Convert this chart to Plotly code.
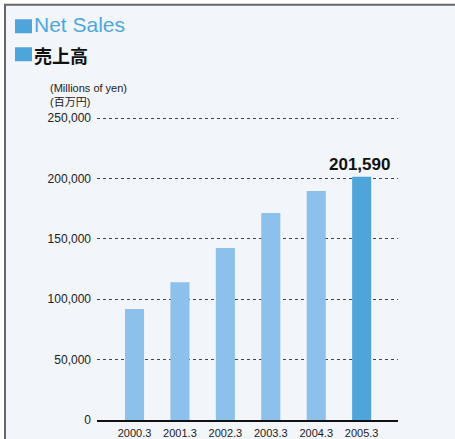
import plotly.graph_objects as go

categories = ["2000.3", "2001.3", "2002.3", "2003.3", "2004.3", "2005.3"]
net_sales = [92000, 114200, 142400, 171400, 189600, 201590]
bar_colors = ["#8bc1ea"] * 5 + ["#4fa5da"]
y_ticks = [0, 50000, 100000, 150000, 200000, 250000]

W, H = 455, 439
L, R, T, B = 97, 57, 116.8, 19
pw, ph = W - L - R, H - T - B

def px(x):
    return (x - L) / pw

def py(y):
    return (H - B - y) / ph

FONT = "Liberation Sans, Arial, sans-serif"

fig = go.Figure()
fig.add_trace(go.Bar(
    x=list(range(len(categories))), y=net_sales,
    marker=dict(color=bar_colors, line=dict(width=0)),
    width=0.42, hoverinfo="skip",
))

fig.update_layout(
    width=W, height=H,
    margin=dict(l=L, r=R, t=T, b=B, pad=0),
    paper_bgcolor="white", plot_bgcolor="rgba(0,0,0,0)",
    showlegend=False,
    xaxis=dict(
        range=[-0.826, 5.80], tickmode="array",
        tickvals=list(range(len(categories))), ticktext=categories,
        showgrid=False, zeroline=False, showline=True,
        linecolor="#111", linewidth=2, ticks="",
        ticklabelstandoff=2,
        tickfont=dict(family=FONT, size=11, color="#222"),
        automargin=False, fixedrange=True,
    ),
    yaxis=dict(
        range=[0, 251000], tickvals=y_ticks, tickformat=",",
        showgrid=True, gridcolor="#444", gridwidth=1, griddash="3px,3px",
        zeroline=False, showline=False, ticks="",
        ticklabelstandoff=5,
        tickfont=dict(family=FONT, size=12, color="#222"),
        automargin=False, fixedrange=True,
    ),
    shapes=[
        dict(type="rect", xref="paper", yref="paper",
             x0=px(5), x1=px(470), y0=py(4.5), y1=py(460),
             fillcolor="#f2f5fa", line=dict(color="#666", width=2), layer="below"),
        dict(type="rect", xref="paper", yref="paper",
             x0=px(15), x1=px(32), y0=py(19), y1=py(33),
             fillcolor="#4fa5da", line=dict(width=0)),
        dict(type="rect", xref="paper", yref="paper",
             x0=px(15), x1=px(32), y0=py(47), y1=py(61),
             fillcolor="#4fa5da", line=dict(width=0)),
    ],
    annotations=[
        dict(text="Net Sales", xref="paper", yref="paper", x=px(32), y=py(24.5),
             xanchor="left", yanchor="middle", showarrow=False,
             font=dict(family=FONT, size=21, color="#4ea8de")),
        dict(text="<b>売上高</b>", xref="paper", yref="paper", x=px(32), y=py(54.5),
             xanchor="left", yanchor="middle", showarrow=False,
             font=dict(family="Noto Sans CJK JP", size=18, color="#111")),
        dict(text="(Millions of yen)<br>(百万円)", xref="paper", yref="paper",
             x=px(48), y=py(95), align="left",
             xanchor="left", yanchor="middle", showarrow=False,
             font=dict(family="Liberation Sans, Noto Sans CJK JP, sans-serif", size=11, color="#222")),
        dict(text="<b>{:,}</b>".format(net_sales[-1]), x=5, y=net_sales[-1],
             xref="x", yref="y", xanchor="center", yanchor="bottom",
             showarrow=False, yshift=1, xshift=-2,
             font=dict(family=FONT, size=17, color="#111")),
    ],
)

fig.write_html("out.html")
